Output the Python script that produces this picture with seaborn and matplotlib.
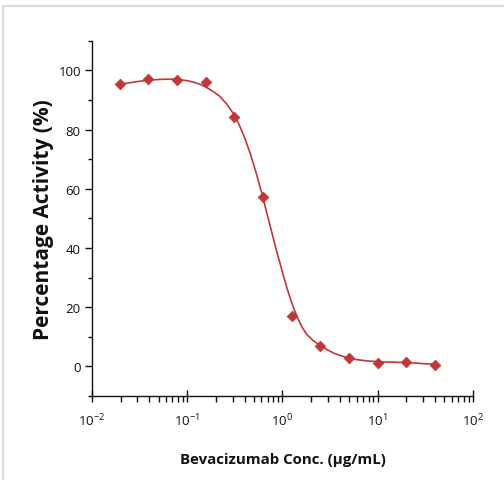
import numpy as np
import pandas as pd
import matplotlib
matplotlib.use("Agg")
import matplotlib.pyplot as plt
import seaborn as sns
from matplotlib.ticker import LogLocator, MultipleLocator, NullFormatter
from matplotlib.lines import Line2D

# 측정 농도 (ug/mL) 와 활성도 (%)
conc = [0.0195, 0.039, 0.078, 0.156, 0.3125, 0.625, 1.25, 2.5, 5, 10, 20, 40]
activity = [95.4, 97.1, 96.7, 95.9, 84.1, 57.1, 16.9, 7.0, 2.8, 1.3, 1.4, 0.6]

# 피팅 곡선
fit_x = [0.0195, 0.025, 0.03, 0.04, 0.05, 0.06, 0.07, 0.08, 0.10, 0.12, 0.14,
         0.16, 0.19, 0.22, 0.26, 0.30, 0.35, 0.40, 0.46, 0.53, 0.60, 0.68,
         0.77, 0.87, 0.98, 1.1, 1.25, 1.4, 1.6, 1.8, 2.1, 2.5, 3.0, 3.5, 4.2,
         5.0, 6.0, 7.5, 10, 14, 20, 28, 40]
fit_y = [95.3, 95.8, 96.2, 96.7, 96.9, 97.0, 97.0, 96.9, 96.5, 95.9, 95.1,
         94.2, 92.7, 91.2, 88.6, 85.7, 81.7, 77.3, 71.8, 65.3, 59.0, 52.2,
         45.4, 38.8, 32.8, 27.0, 21.5, 17.3, 13.3, 10.8, 8.7, 7.0, 5.5, 4.4, 3.5,
         2.8, 2.3, 1.9, 1.6, 1.45, 1.3, 1.0, 0.7]

pts = pd.DataFrame({"conc": conc, "activity": activity})
fit = pd.DataFrame({"conc": fit_x, "activity": fit_y})

sns.set_style("ticks")
plt.rcParams["font.family"] = ["Open Sans", "DejaVu Sans"]
plt.rcParams["mathtext.default"] = "regular"

red = "#c0373a"

fig = plt.figure(figsize=(5.04, 4.81), dpi=100)
ax = fig.add_axes([0.1825, 0.1746, 0.756, 0.7387])

sns.lineplot(data=fit, x="conc", y="activity", color=red, lw=1.2, ax=ax)
sns.scatterplot(data=pts, x="conc", y="activity", color=red, marker="D",
                s=30, edgecolor=red, linewidth=0.5, ax=ax, zorder=3)

ax.set_xscale("log")
ax.set_xlim(0.01, 100)
ax.set_ylim(-10, 110)
ax.set_yticks([0, 20, 40, 60, 80, 100])
ax.yaxis.set_minor_locator(MultipleLocator(10))
ax.xaxis.set_major_locator(LogLocator(base=10, numticks=10))
ax.xaxis.set_minor_locator(LogLocator(base=10, subs=np.arange(2, 10), numticks=10))
ax.xaxis.set_minor_formatter(NullFormatter())

for side in ["top", "right"]:
    ax.spines[side].set_visible(False)
for side in ["left", "bottom"]:
    ax.spines[side].set_color("#111111")
    ax.spines[side].set_linewidth(1.0)

ax.tick_params(axis="y", which="major", direction="out", length=5, width=1,
               labelsize=9.5, colors="#111111", pad=3)
ax.tick_params(axis="y", which="minor", direction="out", length=3, width=1,
               colors="#111111")
ax.tick_params(axis="x", which="major", direction="inout", length=9, width=1,
               labelsize=9.5, colors="#111111", pad=7)
ax.tick_params(axis="x", which="minor", direction="out", length=4, width=1,
               colors="#111111")

ax.set_xlabel("Bevacizumab Conc. (µg/mL)", fontsize=10.8, fontweight="bold",
              labelpad=17, color="#111111")
ax.set_ylabel("Percentage Activity (%)", fontsize=15, fontweight="bold",
              labelpad=3, color="#111111")

# 바깥 회색 테두리
fig.add_artist(Line2D([3 / 504, 1.0], [1 - 7 / 481, 1 - 7 / 481],
                      transform=fig.transFigure, color="#dcdcdc", lw=1.6))
fig.add_artist(Line2D([3 / 504, 3 / 504], [0, 1 - 7 / 481],
                      transform=fig.transFigure, color="#dcdcdc", lw=1.6))

fig.savefig("out.png", dpi=100, facecolor="white")
